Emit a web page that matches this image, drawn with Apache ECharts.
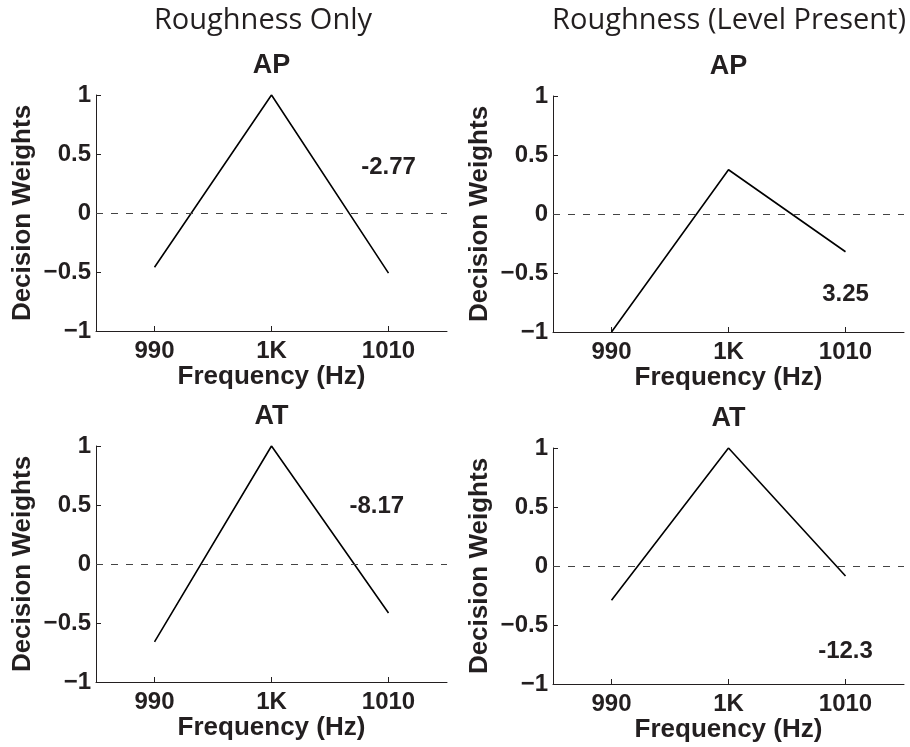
<!DOCTYPE html>
<html>
<head>
<meta charset="utf-8">
<script src="https://cdn.jsdelivr.net/npm/echarts@6/dist/echarts.min.js"></script>
<style>
  html, body { margin: 0; padding: 0; background: #fff; }
  #chart { width: 910px; height: 747px; }
</style>
</head>
<body>
<div id="chart"></div>
<script>
    var freqs = [990, 1000, 1010];
    var tickLabels = { 990: '990', 1000: '1K', 1010: '1010' };
    var panelTitles = ['AP', 'AP', 'AT', 'AT'];
    var columnHeaders = ['Roughness Only', 'Roughness (Level Present)'];
    // weights per panel: top-left, top-right, bottom-left, bottom-right
    var apRough = [-0.46, 1.0, -0.51];
    var apLevel = [-1.0, 0.375, -0.32];
    var atRough = [-0.66, 1.0, -0.415];
    var atLevel = [-0.29, 1.0, -0.085];
    var annotText = ['-2.77', '3.25', '-8.17', '-12.3'];
    var annotPos = [[1010, 0.39], [1010, -0.68], [1009, 0.49], [1010, -0.72]];

    var panels = [apRough, apLevel, atRough, atLevel];
    var ink = '#231f20';
    var font = 'Liberation Sans, Arial, Helvetica, sans-serif';

    var grids = [
        { left: 96, top: 95, width: 351, height: 236 },
        { left: 553, top: 96, width: 351, height: 236 },
        { left: 96, top: 446, width: 351, height: 236 },
        { left: 553, top: 448, width: 351, height: 236 }
    ];
    var nameGaps = [29, 29, 33, 33];

    var xAxes = [], yAxes = [], series = [], graphics = [];
    grids.forEach(function (g, i) {
        xAxes.push({
            type: 'value', gridIndex: i, min: 985, max: 1015,
            name: 'Frequency (Hz)', nameLocation: 'middle', nameGap: nameGaps[i],
            nameTextStyle: { color: ink, fontSize: 26, fontWeight: 'bold', fontFamily: font },
            axisLine: { onZero: false, lineStyle: { color: ink, width: 1 } },
            axisTick: { inside: true, length: 5, customValues: freqs, lineStyle: { color: ink } },
            axisLabel: {
                customValues: freqs, margin: 8, color: ink, fontSize: 24, fontWeight: 'bold', fontFamily: font,
                formatter: function (v) { return tickLabels[v] || ''; }
            },
            splitLine: { show: false }
        });
        yAxes.push({
            type: 'value', gridIndex: i, min: -1, max: 1, interval: 0.5,
            name: 'Decision Weights', nameLocation: 'middle', nameGap: 60,
            nameTextStyle: { color: ink, fontSize: 26, fontWeight: 'bold', fontFamily: font },
            axisLine: { show: true, onZero: false, lineStyle: { color: ink, width: 1 } },
            axisTick: { show: true, inside: true, length: 5, lineStyle: { color: ink } },
            axisLabel: {
                margin: 5, color: ink, fontSize: 24, fontWeight: 'bold', fontFamily: font,
                formatter: function (v) { return String(v).replace('-', '\u2212'); }
            },
            splitLine: { show: false }
        });
        series.push({
            type: 'line', xAxisIndex: i, yAxisIndex: i,
            data: freqs.map(function (f, k) { return [f, panels[i][k]]; }),
            showSymbol: false, symbol: 'none',
            lineStyle: { color: '#000', width: 1.6 },
            markLine: {
                silent: true, symbol: 'none', label: { show: false },
                lineStyle: { color: '#444', type: [7, 8], width: 1 },
                data: [{ yAxis: 0 }]
            },
            z: 3
        });
        series.push({
            type: 'scatter', xAxisIndex: i, yAxisIndex: i,
            data: [annotPos[i]], symbolSize: 0,
            itemStyle: { opacity: 1 },
            label: {
                show: true, position: 'inside', formatter: annotText[i],
                color: ink, fontSize: 24, fontWeight: 'bold', fontFamily: font
            }
        });
        graphics.push({
            type: 'text', x: g.left + g.width / 2, y: g.top - 29,
            style: { text: panelTitles[i], fill: ink, font: 'bold 27px ' + font, textAlign: 'center', textVerticalAlign: 'middle' }
        });
    });
    graphics.push({
        type: 'text', x: 263, y: 21,
        style: { text: columnHeaders[0], fill: ink, font: '29px "Open Sans", sans-serif', textAlign: 'center', textVerticalAlign: 'middle' }
    });
    graphics.push({
        type: 'text', x: 729, y: 21,
        style: { text: columnHeaders[1], fill: ink, font: '29px "Open Sans", sans-serif', textAlign: 'center', textVerticalAlign: 'middle' }
    });

    var chart = echarts.init(document.getElementById('chart'));
    chart.setOption({
        backgroundColor: '#fff',
        animation: false,
        grid: grids,
        xAxis: xAxes,
        yAxis: yAxes,
        series: series,
        graphic: graphics
    });
</script>
</body>
</html>
